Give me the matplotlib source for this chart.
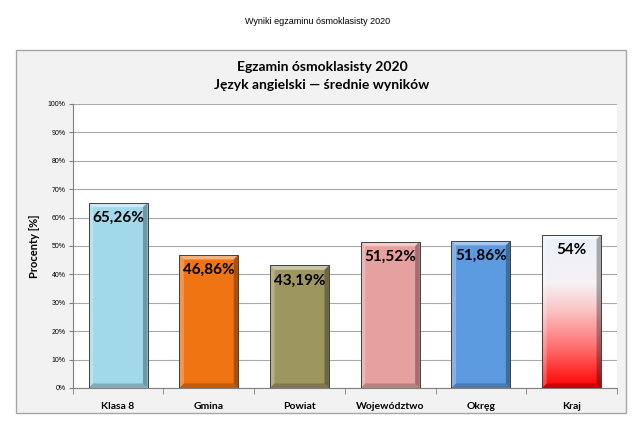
import matplotlib
matplotlib.use("Agg")
import matplotlib.pyplot as plt
import numpy as np
from matplotlib.patches import Rectangle, Polygon
from matplotlib.colors import LinearSegmentedColormap

categories = ["Klasa 8", "Gmina", "Powiat", "Województwo", "Okręg", "Kraj"]
values = [65.26, 46.86, 43.19, 51.52, 51.86, 54.0]
labels = ["65,26%", "46,86%", "43,19%", "51,52%", "51,86%", "54%"]
colors = ["#a1d9ea", "#f07412", "#9e965f", "#e6a09f", "#5c9be0", None]
yticks = list(range(0, 101, 10))

W, H = 640, 433
fig = plt.figure(figsize=(W / 100, H / 100), dpi=100)
fig.patch.set_facecolor("white")

# outer chart box
fig.patches.append(Rectangle((16 / W, 1 - 413 / H), 610 / W, 363 / H, transform=fig.transFigure,
                             facecolor="#f2f2f2", edgecolor="#a6a6a6", lw=1.0, zorder=-5))

fig.text(318 / W, 1 - 22 / H, "Wyniki egzaminu ósmoklasisty 2020", ha="center", va="center",
         fontsize=6.5, family="Liberation Sans")
fig.text(322 / W, 1 - 67 / H, "Egzamin ósmoklasisty 2020", ha="center", va="center",
         fontsize=10, fontweight="bold", family="Lato")
fig.text(322 / W, 1 - 85 / H, "Język angielski — średnie wyników", ha="center", va="center",
         fontsize=10, fontweight="bold", family="Lato")

ax = fig.add_axes([72.7 / W, 1 - 388 / H, (617 - 72.7) / W, (388 - 104) / H])
ax.set_zorder(2)
ax.set_facecolor("white")
ax.set_xlim(-0.5, len(categories) - 0.5)
ax.set_ylim(0, 100)
ax.set_yticks(yticks)
ax.set_yticklabels([f"{t}%" for t in yticks], fontsize=5, family="Liberation Sans")
ax.yaxis.grid(True, color="#a8a8a8", lw=0.8)
ax.set_axisbelow(True)
ax.set_xticks(range(len(categories)))
ax.set_xticklabels(categories, fontsize=7.5, fontweight="bold", family="Lato")
ax.tick_params(axis="x", length=0, pad=10)
ax.set_xticks(np.arange(-0.5, len(categories), 1), minor=True)
ax.tick_params(axis="x", which="minor", length=4, color="#808080")
ax.tick_params(axis="y", length=3, color="#808080", pad=2)
for s in ["top", "right"]:
    ax.spines[s].set_visible(False)
for s in ["left", "bottom"]:
    ax.spines[s].set_color("#808080")
ax.set_ylabel("Procenty [%]", fontsize=8, fontweight="bold", family="Lato", labelpad=6)

bw = 0.65
bars = ax.bar(range(len(categories)), values, width=bw,
              color=[c if c else "white" for c in colors],
              edgecolor="none", lw=0, zorder=3)

# Kraj gradient
kb = bars[-1]
x0 = kb.get_x()
grad_cmap = LinearSegmentedColormap.from_list(
    "kraj", [(0.0, "#ff0000"), (0.25, "#ff6a6a"), (0.5, "#fbc3c3"), (0.68, "#f6f1f4"), (1.0, "#eaf1fb")])
g = np.linspace(0, 1, 256).reshape(-1, 1)
im = ax.imshow(g, cmap=grad_cmap, origin="lower", aspect="auto",
               extent=[x0, x0 + bw, 0, values[-1]], zorder=3.5)
im.set_clip_path(kb)

# bevel effect
dx, dy = 0.05, 1.6
for b in bars:
    bx, bwid, bh = b.get_x(), b.get_width(), b.get_height()
    L, R, T = bx, bx + bwid, bh
    top = Polygon([(L, T), (R, T), (R - dx, T - dy), (L + dx, T - dy)], closed=True,
                  facecolor="white", alpha=0.45, edgecolor="none", zorder=4)
    left = Polygon([(L, 0), (L, T), (L + dx, T - dy), (L + dx, dy)], closed=True,
                   facecolor="white", alpha=0.25, edgecolor="none", zorder=4)
    right = Polygon([(R, 0), (R, T), (R - dx, T - dy), (R - dx, dy)], closed=True,
                    facecolor="black", alpha=0.3, edgecolor="none", zorder=4)
    bottom = Polygon([(L, 0), (R, 0), (R - dx, dy), (L + dx, dy)], closed=True,
                     facecolor="black", alpha=0.2, edgecolor="none", zorder=4)
    for p in (top, left, right, bottom):
        ax.add_patch(p)
    ax.add_patch(Rectangle((bx, 0), bwid, bh, facecolor="none",
                           edgecolor="#404040", lw=0.7, zorder=4.5))

for i, (v, lab) in enumerate(zip(values, labels)):
    ax.annotate(lab, (i, v), xytext=(0, -11), textcoords="offset points",
                ha="center", va="center", fontsize=11, fontweight="bold",
                family="Lato", zorder=6)

fig.savefig("out.png", dpi=100, facecolor="white")
